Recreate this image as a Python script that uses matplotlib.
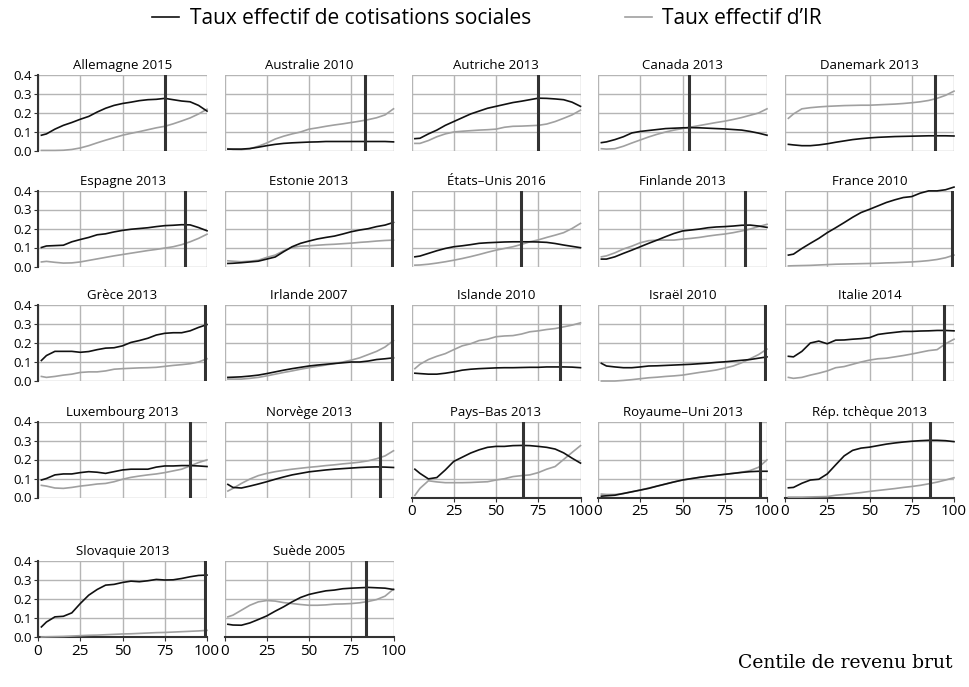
import matplotlib
matplotlib.use("Agg")
import matplotlib.pyplot as plt
from matplotlib.lines import Line2D

# centile grid shared by every panel
CENTILES = [2, 5, 10, 15, 20, 25, 30, 35, 40, 45, 50, 55, 60, 65, 70, 75, 80, 85, 90, 95, 100]

COUNTRIES = [
    "Allemagne 2015", "Australie 2010", "Autriche 2013", "Canada 2013", "Danemark 2013",
    "Espagne 2013", "Estonie 2013", "États\u2013Unis 2016", "Finlande 2013", "France 2010",
    "Grèce 2013", "Irlande 2007", "Islande 2010", "Israël 2010", "Italie 2014",
    "Luxembourg 2013", "Norvège 2013", "Pays\u2013Bas 2013", "Royaume\u2013Uni 2013", "Rép. tchèque 2013",
    "Slovaquie 2013", "Suède 2005",
]

# taux effectif de cotisations sociales (black)
COTISATIONS = [
    [0.083, 0.09, 0.115, 0.135, 0.15, 0.167, 0.182, 0.205, 0.225, 0.24, 0.25, 0.257, 0.265, 0.27, 0.272, 0.277, 0.27, 0.263, 0.259, 0.24, 0.21],
    [0.01, 0.01, 0.01, 0.013, 0.02, 0.028, 0.035, 0.04, 0.043, 0.045, 0.047, 0.048, 0.05, 0.05, 0.05, 0.05, 0.05, 0.05, 0.05, 0.05, 0.048],
    [0.065, 0.067, 0.09, 0.11, 0.135, 0.155, 0.175, 0.195, 0.21, 0.225, 0.235, 0.245, 0.255, 0.262, 0.27, 0.278, 0.277, 0.274, 0.27, 0.257, 0.235],
    [0.044, 0.048, 0.06, 0.075, 0.095, 0.103, 0.108, 0.113, 0.118, 0.12, 0.122, 0.123, 0.122, 0.12, 0.118, 0.116, 0.113, 0.11, 0.103, 0.094, 0.083],
    [0.035, 0.032, 0.028, 0.028, 0.032, 0.038, 0.046, 0.053, 0.06, 0.065, 0.069, 0.072, 0.074, 0.076, 0.077, 0.078, 0.079, 0.08, 0.08, 0.08, 0.079],
    [0.1, 0.108, 0.11, 0.112, 0.13, 0.142, 0.153, 0.167, 0.172, 0.182, 0.19, 0.196, 0.2, 0.204, 0.21, 0.215, 0.217, 0.22, 0.219, 0.205, 0.188],
    [0.016, 0.017, 0.02, 0.024, 0.028, 0.039, 0.05, 0.078, 0.104, 0.122, 0.134, 0.145, 0.153, 0.16, 0.171, 0.183, 0.192, 0.199, 0.21, 0.218, 0.232],
    [0.051, 0.055, 0.069, 0.083, 0.095, 0.104, 0.109, 0.115, 0.122, 0.125, 0.127, 0.129, 0.13, 0.13, 0.13, 0.129, 0.127, 0.121, 0.113, 0.106, 0.099],
    [0.039, 0.039, 0.051, 0.069, 0.086, 0.104, 0.122, 0.139, 0.157, 0.174, 0.187, 0.192, 0.197, 0.204, 0.208, 0.21, 0.213, 0.217, 0.218, 0.213, 0.206],
    [0.06, 0.065, 0.095, 0.122, 0.148, 0.178, 0.204, 0.231, 0.259, 0.284, 0.301, 0.319, 0.337, 0.351, 0.363, 0.368, 0.386, 0.398, 0.398, 0.404, 0.418],
    [0.108, 0.134, 0.156, 0.156, 0.156, 0.151, 0.155, 0.165, 0.173, 0.175, 0.185, 0.203, 0.213, 0.225, 0.242, 0.251, 0.254, 0.254, 0.264, 0.282, 0.297],
    [0.019, 0.02, 0.022, 0.026, 0.031, 0.039, 0.048, 0.057, 0.065, 0.072, 0.079, 0.084, 0.088, 0.092, 0.096, 0.1, 0.1, 0.105, 0.113, 0.117, 0.122],
    [0.041, 0.039, 0.036, 0.036, 0.041, 0.048, 0.057, 0.062, 0.065, 0.067, 0.069, 0.07, 0.07, 0.071, 0.072, 0.072, 0.074, 0.074, 0.074, 0.073, 0.07],
    [0.093, 0.079, 0.074, 0.07, 0.07, 0.074, 0.079, 0.08, 0.082, 0.084, 0.086, 0.088, 0.091, 0.094, 0.098, 0.101, 0.105, 0.109, 0.113, 0.12, 0.127],
    [0.13, 0.127, 0.156, 0.2, 0.21, 0.196, 0.215, 0.216, 0.22, 0.223, 0.228, 0.245, 0.251, 0.256, 0.261, 0.261, 0.263, 0.264, 0.266, 0.266, 0.264],
    [0.092, 0.1, 0.119, 0.124, 0.124, 0.131, 0.136, 0.133, 0.127, 0.136, 0.145, 0.149, 0.149, 0.149, 0.16, 0.166, 0.166, 0.168, 0.168, 0.166, 0.163],
    [0.069, 0.053, 0.05, 0.06, 0.071, 0.083, 0.096, 0.108, 0.119, 0.127, 0.135, 0.14, 0.145, 0.149, 0.152, 0.155, 0.158, 0.16, 0.161, 0.16, 0.158],
    [0.149, 0.127, 0.098, 0.105, 0.145, 0.19, 0.212, 0.234, 0.251, 0.264, 0.269, 0.269, 0.273, 0.274, 0.273, 0.269, 0.264, 0.255, 0.235, 0.207, 0.181],
    [0.007, 0.009, 0.012, 0.021, 0.03, 0.039, 0.048, 0.06, 0.071, 0.082, 0.092, 0.099, 0.106, 0.112, 0.117, 0.122, 0.127, 0.132, 0.136, 0.138, 0.138],
    [0.051, 0.053, 0.075, 0.092, 0.096, 0.124, 0.172, 0.219, 0.248, 0.26, 0.265, 0.273, 0.281, 0.287, 0.292, 0.296, 0.299, 0.301, 0.301, 0.299, 0.294],
    [0.053, 0.079, 0.106, 0.109, 0.127, 0.176, 0.22, 0.25, 0.273, 0.277, 0.287, 0.294, 0.291, 0.296, 0.303, 0.3, 0.301, 0.308, 0.317, 0.324, 0.326],
    [0.067, 0.063, 0.062, 0.074, 0.092, 0.111, 0.136, 0.159, 0.185, 0.208, 0.224, 0.234, 0.243, 0.247, 0.254, 0.257, 0.259, 0.261, 0.259, 0.257, 0.25],
]

# taux effectif d'IR (grey)
IMPOT = [
    [0.003, 0.003, 0.003, 0.004, 0.008, 0.016, 0.028, 0.043, 0.057, 0.07, 0.083, 0.093, 0.102, 0.112, 0.122, 0.13, 0.143, 0.158, 0.174, 0.195, 0.22],
    [0.012, 0.008, 0.007, 0.012, 0.025, 0.042, 0.063, 0.078, 0.09, 0.1, 0.115, 0.122, 0.13, 0.137, 0.143, 0.15, 0.157, 0.165, 0.175, 0.19, 0.222],
    [0.04, 0.04, 0.055, 0.075, 0.09, 0.1, 0.104, 0.107, 0.11, 0.112, 0.115, 0.125, 0.13, 0.131, 0.133, 0.135, 0.142, 0.155, 0.172, 0.19, 0.215],
    [0.012, 0.01, 0.012, 0.025, 0.042, 0.058, 0.074, 0.088, 0.1, 0.11, 0.118, 0.126, 0.134, 0.142, 0.15, 0.157, 0.166, 0.176, 0.188, 0.2, 0.222],
    [0.172, 0.195, 0.222, 0.228, 0.232, 0.235, 0.237, 0.239, 0.24, 0.241, 0.241, 0.243, 0.245, 0.247, 0.25, 0.254, 0.259, 0.266, 0.277, 0.293, 0.315],
    [0.024, 0.027, 0.022, 0.018, 0.019, 0.024, 0.032, 0.04, 0.048, 0.056, 0.063, 0.07, 0.077, 0.084, 0.09, 0.097, 0.104, 0.115, 0.13, 0.148, 0.17],
    [0.03, 0.028, 0.025, 0.028, 0.033, 0.048, 0.06, 0.083, 0.1, 0.107, 0.109, 0.112, 0.115, 0.117, 0.12, 0.123, 0.127, 0.13, 0.134, 0.137, 0.139],
    [0.007, 0.008, 0.012, 0.018, 0.025, 0.033, 0.042, 0.052, 0.063, 0.075, 0.086, 0.095, 0.104, 0.116, 0.13, 0.14, 0.153, 0.165, 0.178, 0.2, 0.227],
    [0.051, 0.056, 0.072, 0.092, 0.107, 0.125, 0.136, 0.139, 0.139, 0.139, 0.144, 0.148, 0.153, 0.16, 0.166, 0.171, 0.178, 0.187, 0.197, 0.21, 0.222],
    [0.003, 0.004, 0.005, 0.006, 0.008, 0.01, 0.012, 0.013, 0.014, 0.015, 0.016, 0.017, 0.019, 0.02, 0.022, 0.024, 0.027, 0.031, 0.037, 0.046, 0.06],
    [0.024, 0.019, 0.024, 0.031, 0.036, 0.045, 0.048, 0.048, 0.053, 0.062, 0.065, 0.067, 0.069, 0.07, 0.072, 0.077, 0.082, 0.086, 0.091, 0.1, 0.117],
    [0.01, 0.01, 0.01, 0.014, 0.019, 0.027, 0.036, 0.045, 0.053, 0.062, 0.07, 0.077, 0.084, 0.092, 0.1, 0.11, 0.122, 0.139, 0.156, 0.179, 0.213],
    [0.065, 0.088, 0.113, 0.13, 0.144, 0.165, 0.185, 0.196, 0.213, 0.22, 0.233, 0.237, 0.239, 0.247, 0.259, 0.264, 0.271, 0.276, 0.285, 0.294, 0.306],
    [0.0, 0.0, 0.0, 0.003, 0.007, 0.012, 0.017, 0.02, 0.024, 0.027, 0.031, 0.038, 0.045, 0.051, 0.058, 0.068, 0.079, 0.096, 0.117, 0.139, 0.168],
    [0.019, 0.014, 0.019, 0.031, 0.041, 0.053, 0.07, 0.076, 0.088, 0.1, 0.11, 0.117, 0.12, 0.127, 0.134, 0.142, 0.151, 0.16, 0.165, 0.196, 0.22],
    [0.064, 0.06, 0.05, 0.048, 0.053, 0.06, 0.065, 0.071, 0.074, 0.083, 0.096, 0.106, 0.113, 0.119, 0.124, 0.131, 0.14, 0.149, 0.166, 0.184, 0.198],
    [0.034, 0.048, 0.074, 0.097, 0.115, 0.127, 0.136, 0.143, 0.149, 0.154, 0.159, 0.163, 0.168, 0.172, 0.177, 0.181, 0.186, 0.193, 0.204, 0.219, 0.246],
    [0.011, 0.048, 0.088, 0.082, 0.078, 0.078, 0.078, 0.079, 0.081, 0.083, 0.092, 0.099, 0.11, 0.115, 0.119, 0.131, 0.149, 0.163, 0.2, 0.237, 0.273],
    [0.018, 0.016, 0.016, 0.021, 0.03, 0.039, 0.05, 0.06, 0.071, 0.082, 0.092, 0.099, 0.106, 0.112, 0.117, 0.122, 0.127, 0.133, 0.142, 0.159, 0.198],
    [0.002, 0.002, 0.002, 0.003, 0.004, 0.005, 0.012, 0.016, 0.021, 0.026, 0.032, 0.037, 0.042, 0.047, 0.053, 0.058, 0.064, 0.072, 0.081, 0.092, 0.104],
    [0.0, 0.001, 0.002, 0.003, 0.005, 0.007, 0.009, 0.01, 0.012, 0.014, 0.016, 0.017, 0.019, 0.021, 0.023, 0.024, 0.026, 0.028, 0.03, 0.032, 0.035],
    [0.106, 0.115, 0.141, 0.167, 0.185, 0.192, 0.189, 0.181, 0.176, 0.171, 0.167, 0.167, 0.169, 0.173, 0.174, 0.176, 0.18, 0.187, 0.197, 0.215, 0.252],
]

# centile marked by the vertical bar in each panel
SEUILS = [75, 83, 75, 54, 89, 87, 99, 65, 87, 99, 99, 99, 88, 99, 94, 90, 92, 66, 96, 86, 99, 84]

X_TICKS = [0, 25, 50, 75, 100]
Y_TICKS = [0.0, 0.1, 0.2, 0.3, 0.4]

plt.rcParams["font.family"] = ["Open Sans", "DejaVu Sans"]

W, H = 969, 687
fig = plt.figure(figsize=(W / 100, H / 100), dpi=100)

COL_LEFT = [38, 224.5, 411.5, 598, 785]
ROW_TOP = [75, 190.5, 305, 421.5, 561]
AX_W, AX_H = 169, 76

GRID = "#b5b5b5"
DARK = "#333333"

for i, name in enumerate(COUNTRIES):
    r, c = divmod(i, 5)
    ax = fig.add_axes([COL_LEFT[c] / W, 1 - (ROW_TOP[r] + AX_H) / H, AX_W / W, AX_H / H])
    ax.set_xlim(0, 100)
    ax.set_ylim(0, 0.4)
    ax.set_xticks(X_TICKS)
    ax.set_yticks(Y_TICKS)
    ax.grid(True, color=GRID, linewidth=1.0)
    ax.set_axisbelow(True)
    for s in ax.spines.values():
        s.set_visible(False)

    show_y = c == 0
    show_x = i >= 17
    if show_y:
        ax.spines["left"].set_visible(True)
        ax.spines["left"].set_color(DARK)
        ax.spines["left"].set_linewidth(1.5)
        ax.set_yticklabels([f"{v:.1f}" for v in Y_TICKS], fontsize=9.5)
    else:
        ax.set_yticklabels([])
    if show_x:
        ax.spines["bottom"].set_visible(True)
        ax.spines["bottom"].set_color(DARK)
        ax.spines["bottom"].set_linewidth(1.5)
        ax.set_xticklabels([str(v) for v in X_TICKS], fontsize=11)
    else:
        ax.set_xticklabels([])
    ax.tick_params(axis="y", length=3 if show_y else 0, color=DARK, pad=1.5)
    ax.tick_params(axis="x", length=3 if show_x else 0, color=DARK, pad=2)

    ax.plot(CENTILES, IMPOT[i], color="#a0a0a0", linewidth=1.2, zorder=3, clip_on=False)
    ax.plot(CENTILES, COTISATIONS[i], color="#111111", linewidth=1.2, zorder=4, clip_on=False)
    ax.axvline(SEUILS[i], color=DARK, linewidth=2.2, zorder=5)
    ax.set_title(name, fontsize=9.5, pad=4)

handles = [
    Line2D([], [], color="#111111", linewidth=1.2),
    Line2D([], [], color="#a0a0a0", linewidth=1.2),
]
fig.legend(
    handles,
    ["Taux effectif de cotisations sociales", "Taux effectif d\u2019IR"],
    loc="center",
    bbox_to_anchor=(487 / W, 1 - 19 / H),
    ncol=2,
    frameon=False,
    fontsize=15,
    handlelength=1.3,
    handletextpad=0.5,
    columnspacing=4.5,
)
fig.text(953 / W, 1 - 663 / H, "Centile de revenu brut", ha="right", va="center",
         fontsize=13.5, family="DejaVu Serif")

fig.savefig("out.png", dpi=100)
